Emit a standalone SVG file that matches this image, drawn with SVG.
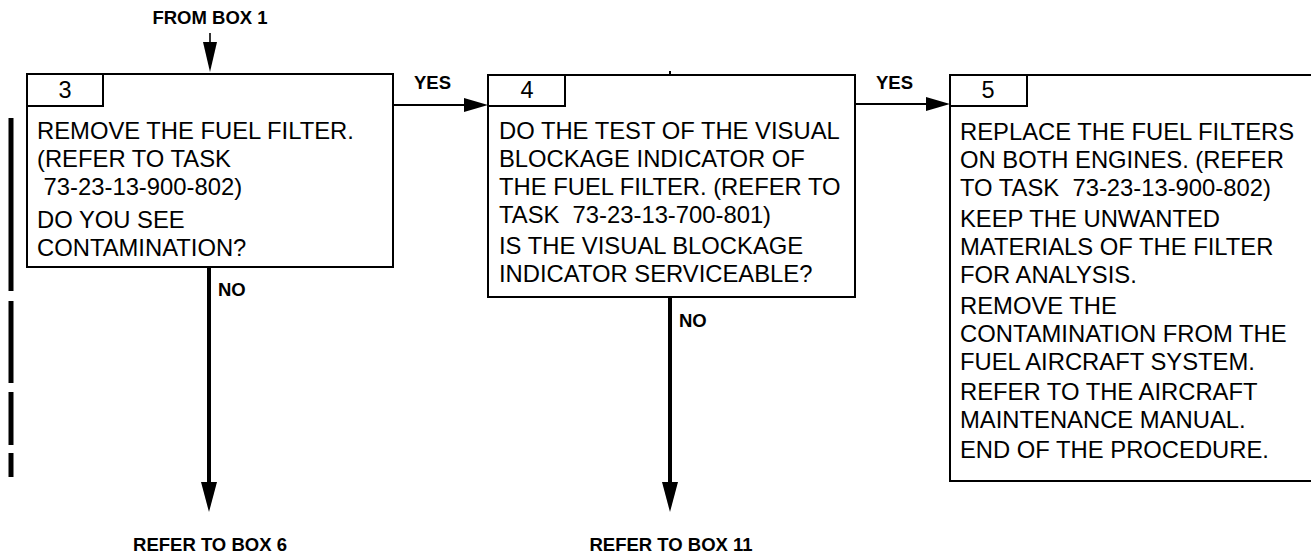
<svg xmlns="http://www.w3.org/2000/svg" width="1311" height="554" viewBox="0 0 1311 554">
<style>
  .box{fill:#fff;stroke:#000;stroke-width:2}
  .num{fill:none;stroke:#000;stroke-width:2}
  .t{font-family:"Liberation Sans",Arial,sans-serif;font-size:23.8px;fill:#000}
  .n{font-family:"Liberation Sans",Arial,sans-serif;font-size:23.5px;fill:#000;text-anchor:middle}
  .lbl{font-family:"Liberation Sans",Arial,sans-serif;font-size:18.5px;font-weight:bold;fill:#000}
  .c{text-anchor:middle}
  .thin{stroke:#000;stroke-width:1.6;fill:none}
  .mid{stroke:#000;stroke-width:2;fill:none}
  .thick{stroke:#000;stroke-width:4;fill:none}
  .bar{stroke:#000;stroke-width:5;fill:none}
</style>
<defs>
  <marker id="ahV" markerUnits="userSpaceOnUse" orient="auto" refX="0" refY="0" markerWidth="40" markerHeight="20" overflow="visible">
    <path d="M0,-8 L30,0 L0,8 Z" fill="#000"/>
  </marker>
  <marker id="ahS" markerUnits="userSpaceOnUse" orient="auto" refX="0" refY="0" markerWidth="40" markerHeight="20" overflow="visible">
    <path d="M0,-7 L30,0 L0,7 Z" fill="#000"/>
  </marker>
  <marker id="ahH" markerUnits="userSpaceOnUse" orient="auto" refX="0" refY="0" markerWidth="40" markerHeight="20" overflow="visible">
    <path d="M0,-7 L24,0 L0,7 Z" fill="#000"/>
  </marker>
</defs>

<g id="change-bar">
  <line class="bar" x1="11" y1="118" x2="11" y2="291"/>
  <line class="bar" x1="11" y1="301" x2="11" y2="383"/>
  <line class="bar" x1="11" y1="392" x2="11" y2="445"/>
  <line class="bar" x1="11" y1="453" x2="11" y2="477"/>
</g>

<g id="box3">
  <rect class="box" x="27" y="74" width="366" height="193"/>
  <rect class="num" x="27" y="74" width="76" height="32"/>
  <text class="n" x="65" y="98">3</text>
  <text class="t" x="37" y="138.5">REMOVE THE FUEL FILTER.</text>
  <text class="t" x="37" y="166.5">(REFER TO TASK</text>
  <text class="t" x="37" y="195" xml:space="preserve"> 73-23-13-900-802)</text>
  <text class="t" x="37" y="227.5">DO YOU SEE</text>
  <text class="t" x="37" y="255.5">CONTAMINATION?</text>
</g>

<g id="box4">
  <rect class="box" x="488" y="75" width="367" height="222"/>
  <rect class="num" x="488" y="75" width="77" height="31"/>
  <text class="n" x="527" y="98">4</text>
  <text class="t" x="499" y="138.5">DO THE TEST OF THE VISUAL</text>
  <text class="t" x="499" y="166.5">BLOCKAGE INDICATOR OF</text>
  <text class="t" x="499" y="194.5">THE FUEL FILTER. (REFER TO</text>
  <text class="t" x="499" y="222.5" xml:space="preserve">TASK  73-23-13-700-801)</text>
  <text class="t" x="499" y="253.5">IS THE VISUAL BLOCKAGE</text>
  <text class="t" x="499" y="281.5">INDICATOR SERVICEABLE?</text>
</g>

<g id="box5">
  <rect class="box" x="950" y="75" width="380" height="406"/>
  <rect class="num" x="950" y="75" width="77" height="31"/>
  <text class="n" x="988" y="98">5</text>
  <text class="t" x="960" y="139.5">REPLACE THE FUEL FILTERS</text>
  <text class="t" x="960" y="167.5">ON BOTH ENGINES. (REFER</text>
  <text class="t" x="960" y="195.5" xml:space="preserve">TO TASK  73-23-13-900-802)</text>
  <text class="t" x="960" y="226.5">KEEP THE UNWANTED</text>
  <text class="t" x="960" y="254.5">MATERIALS OF THE FILTER</text>
  <text class="t" x="960" y="282.5">FOR ANALYSIS.</text>
  <text class="t" x="960" y="313.5">REMOVE THE</text>
  <text class="t" x="960" y="341.5">CONTAMINATION FROM THE</text>
  <text class="t" x="960" y="369.5">FUEL AIRCRAFT SYSTEM.</text>
  <text class="t" x="960" y="400">REFER TO THE AIRCRAFT</text>
  <text class="t" x="960" y="428">MAINTENANCE MANUAL.</text>
  <text class="t" x="960" y="458">END OF THE PROCEDURE.</text>
</g>

<g id="connectors">
  <line class="thin" x1="210" y1="33" x2="210" y2="42" marker-end="url(#ahS)"/>
  <line class="mid" x1="393" y1="105" x2="464" y2="105" marker-end="url(#ahH)"/>
  <line class="mid" x1="855" y1="104" x2="926" y2="104" marker-end="url(#ahH)"/>
  <line class="thick" x1="209" y1="267" x2="209" y2="482" marker-end="url(#ahV)"/>
  <line class="thick" x1="670" y1="297" x2="670" y2="482" marker-end="url(#ahV)"/>
  <line class="mid" x1="670" y1="71" x2="670" y2="75"/>
</g>

<g id="labels">
  <text class="lbl c" x="210" y="24">FROM BOX 1</text>
  <text class="lbl" x="414" y="89">YES</text>
  <text class="lbl" x="876" y="89">YES</text>
  <text class="lbl" x="218" y="296">NO</text>
  <text class="lbl" x="679" y="327">NO</text>
  <text class="lbl c" x="210" y="551">REFER TO BOX 6</text>
  <text class="lbl c" x="671" y="551">REFER TO BOX 11</text>
</g>
</svg>
